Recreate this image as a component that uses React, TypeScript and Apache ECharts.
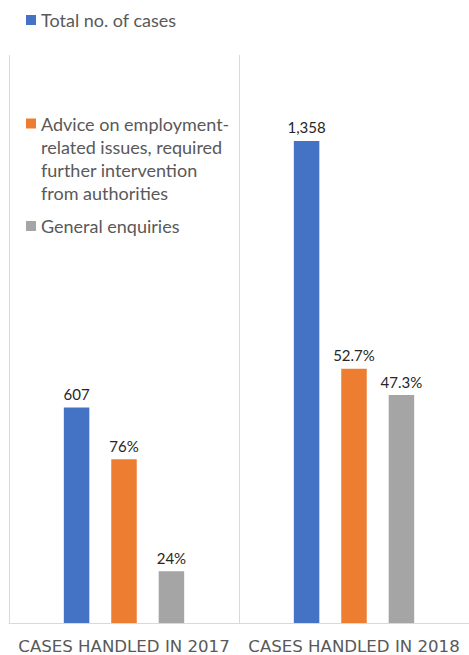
import React, { useEffect, useRef } from "react";
import * as echarts from "echarts";

const categories = ["CASES HANDLED IN 2017", "CASES HANDLED IN 2018"];
const seriesNames = [
  "Total no. of cases",
  "Advice on employment-related issues, required further intervention from authorities",
  "General enquiries",
];
const totalCases = [607, 1358];
const adviceCases = [461, 716];
const generalCases = [146, 642];
const totalLabels = ["607", "1,358"];
const adviceLabels = ["76%", "52.7%"];
const generalLabels = ["24%", "47.3%"];
const adviceLegendLines = [
  "Advice on employment-",
  "related issues, required",
  "further intervention",
  "from authorities",
];
const colors = ["#4472C4", "#ED7D31", "#A5A5A5"];

export default function App() {
  const ref = useRef<HTMLDivElement>(null);
  useEffect(() => {
    document.body.style.margin = "0";
    if (!ref.current) return;
    const chart = echarts.init(ref.current, null, { renderer: "svg" });
    const legendText = {
      color: "#595959",
      fontFamily: "Lato",
      fontSize: 18,
      lineHeight: 23,
    };
    const labelStyle = (labels: string[]) => ({
      show: true,
      position: "top" as const,
      distance: 6,
      color: "#262626",
      fontFamily: "Lato",
      fontSize: 15,
      formatter: (p: any) => labels[p.dataIndex],
    });
    const baseLegend = {
      orient: "vertical" as const,
      left: 26,
      padding: 0,
      itemWidth: 10,
      itemHeight: 10,
      icon: "rect",
      selectedMode: false as const,
    };
    // blank leading lines keep the icon level with the first line of the wrapped name
    const blankLines = new Array(adviceLegendLines.length - 1).fill(" ");
    chart.setOption({
      animation: false,
      color: colors,
      legend: [
        { ...baseLegend, data: [seriesNames[0]], top: 8.5, textStyle: legendText },
        {
          ...baseLegend,
          data: [seriesNames[1]],
          top: 43,
          formatter: () => blankLines.concat(adviceLegendLines).join("\n"),
          textStyle: legendText,
        },
        { ...baseLegend, data: [seriesNames[2]], top: 214.5, textStyle: legendText },
      ],
      grid: { left: 9, top: 55, width: 464, bottom: 29.3, containLabel: false },
      xAxis: {
        type: "category",
        data: categories,
        axisLine: { show: true, lineStyle: { color: "#d9d9d9", width: 1 } },
        axisTick: { show: false },
        splitLine: { show: true, interval: 0, lineStyle: { color: "#d9d9d9", width: 1 } },
        axisLabel: {
          interval: 0,
          margin: 15,
          color: "#595959",
          fontFamily: "DejaVu Sans",
          fontSize: 16.6,
        },
      },
      yAxis: {
        type: "value",
        min: 0,
        max: 1600,
        show: false,
        splitLine: { show: false },
      },
      series: [
        {
          name: seriesNames[0],
          type: "bar",
          data: totalCases,
          barWidth: 25.5,
          barGap: "86%",
          label: labelStyle(totalLabels),
        },
        {
          name: seriesNames[1],
          type: "bar",
          data: adviceCases,
          barWidth: 25.5,
          barGap: "86%",
          label: labelStyle(adviceLabels),
        },
        {
          name: seriesNames[2],
          type: "bar",
          data: generalCases,
          barWidth: 25.5,
          barGap: "86%",
          label: labelStyle(generalLabels),
        },
      ],
    });
    return () => chart.dispose();
  }, []);
  return <div ref={ref} style={{ width: 469, height: 655 }} />;
}
